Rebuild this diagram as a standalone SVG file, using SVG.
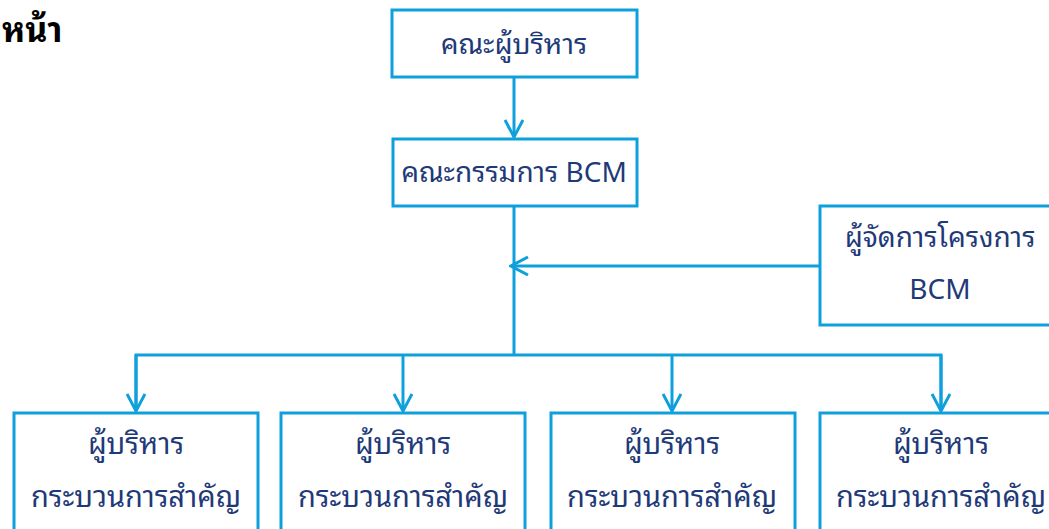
<svg xmlns="http://www.w3.org/2000/svg" width="1049" height="529" viewBox="0 0 1049 529">
<defs>
<style>
.box{fill:#ffffff;stroke:#0ea0dc;stroke-width:3}
.ln{fill:none;stroke:#0ea0dc;stroke-width:3}
.t{font-family:"Noto Sans Thai Looped","Noto Sans","Noto Sans Thai","DejaVu Sans",sans-serif;font-size:28px;fill:#1f3a78;text-anchor:middle}
.b{font-size:29px}
.h{font-family:"Noto Sans Thai Looped","Noto Sans","Noto Sans Thai","DejaVu Sans",sans-serif;font-size:34px;font-weight:bold;fill:#000000;text-anchor:start}
</style>
<marker id="arr" viewBox="0 0 20 20" refX="18" refY="10" markerWidth="20" markerHeight="20" markerUnits="userSpaceOnUse" orient="auto">
<path d="M1,1 L18,10 L1,19" fill="none" stroke="#0ea0dc" stroke-width="3"/>
</marker>
</defs>
<rect width="1049" height="529" fill="#ffffff"/>
<text class="h" x="2" y="42">หน้า</text>
<g id="connectors">
<line class="ln" x1="514" y1="77" x2="514" y2="137" marker-end="url(#arr)"/>
<line class="ln" x1="514" y1="205" x2="514" y2="356"/>
<line class="ln" x1="820" y1="266" x2="511" y2="266" marker-end="url(#arr)"/>
<polyline class="ln" points="136,411 136,355 941,355 941,411"/>
<line class="ln" x1="136" y1="355" x2="136" y2="411" marker-end="url(#arr)"/>
<line class="ln" x1="403" y1="355" x2="403" y2="411" marker-end="url(#arr)"/>
<line class="ln" x1="672" y1="355" x2="672" y2="411" marker-end="url(#arr)"/>
<line class="ln" x1="941" y1="355" x2="941" y2="411" marker-end="url(#arr)"/>
</g>
<g id="n1">
<rect class="box" x="392" y="10" width="245" height="67"/>
<text class="t" x="514" y="54">คณะผู้บริหาร</text>
</g>
<g id="n2">
<rect class="box" x="393" y="139" width="244" height="67"/>
<text class="t" x="514" y="182">คณะกรรมการ BCM</text>
</g>
<g id="n3">
<rect class="box" x="820" y="206" width="240" height="119"/>
<text class="t" x="940" y="247">ผู้จัดการโครงการ</text>
<text class="t" x="940" y="299">BCM</text>
</g>
<g id="n4">
<rect class="box" x="14" y="413" width="244" height="130"/>
<text class="t b" x="136" y="454">ผู้บริหาร</text>
<text class="t b" x="136" y="507">กระบวนการสำคัญ</text>
</g>
<g id="n5">
<rect class="box" x="281" y="413" width="244" height="130"/>
<text class="t b" x="403" y="454">ผู้บริหาร</text>
<text class="t b" x="403" y="507">กระบวนการสำคัญ</text>
</g>
<g id="n6">
<rect class="box" x="551" y="413" width="244" height="130"/>
<text class="t b" x="672" y="454">ผู้บริหาร</text>
<text class="t b" x="672" y="507">กระบวนการสำคัญ</text>
</g>
<g id="n7">
<rect class="box" x="820" y="413" width="244" height="130"/>
<text class="t b" x="941" y="454">ผู้บริหาร</text>
<text class="t b" x="941" y="507">กระบวนการสำคัญ</text>
</g>
</svg>
